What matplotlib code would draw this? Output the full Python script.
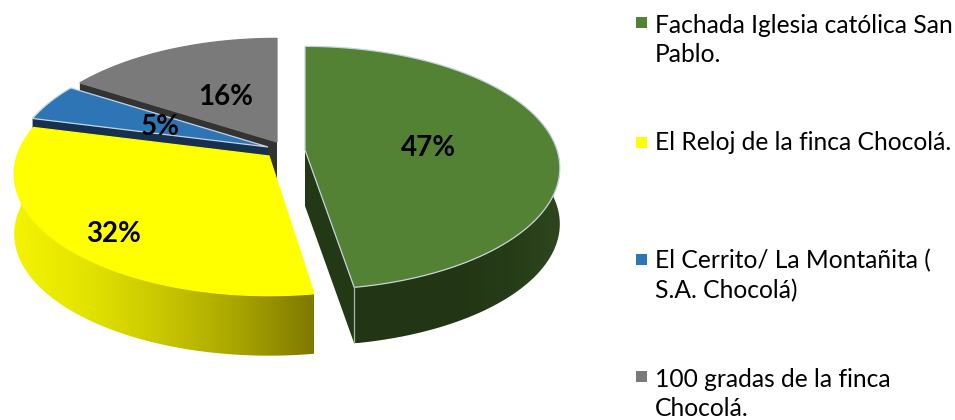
import numpy as np
import matplotlib
matplotlib.use("Agg")
import matplotlib.pyplot as plt
from matplotlib.patches import Polygon, Rectangle
from matplotlib.colors import LinearSegmentedColormap

categories = ["Fachada Iglesia católica San\nPablo.",
              "El Reloj de la finca Chocolá.",
              "El Cerrito/ La Montañita (\nS.A. Chocolá)",
              "100 gradas de la finca\nChocolá."]
values = [47, 32, 5, 16]

top_colors = ["#548235", "#ffff00", "#2e75b6", "#7a7a7a"]
side_colors = ["#233815", "#8f8c00", "#17304f", "#333333"]
apex = [(305, 150), (269, 156), (268, 147), (277, 142)]
start_nudge = [0, 2.0, 0, 0]
end_nudge = [1.2, 0, 0, 0]
depth = [56, 60, 10, 58]
label_pos = [(428, 148), (114, 234), (160, 127), (226, 97)]
legend_y = [22, 142, 259, 376]
legend_text_y = [40, 143, 276, 394]

RX, RY, K = 252.0, 119.0, 0.148

def project(theta_deg, ctr):
    t = np.radians(theta_deg)
    x, y = np.sin(t), -np.cos(t)
    w = 1 - K * y
    return ctr[0] + RX * x / w, ctr[1] + RY * y / w

def arc(a, b, ctr):
    th = np.linspace(a, b, 200)
    return project(th, ctr)

fig = plt.figure(figsize=(9.55, 4.2), dpi=100)
ax = fig.add_axes([0, 0, 1, 1])
ax.set_axis_off()

bounds = np.cumsum([0] + values) * 3.6
spans = [(bounds[i] + start_nudge[i], bounds[i + 1] + end_nudge[i]) for i in range(len(values))]

def gradient_fill(xs, ys, stops, z):
    poly = Polygon(np.c_[xs, ys], closed=True, transform=ax.transData,
                   facecolor="none", edgecolor="none")
    ax.add_patch(poly)
    cmap = LinearSegmentedColormap.from_list("g", stops)
    x0, x1 = min(xs), max(xs)
    y0, y1 = min(ys), max(ys)
    im = ax.imshow(np.linspace(0, 1, 256)[None, :], cmap=cmap, aspect="auto",
                   extent=[x0, x1, y1, y0], zorder=z, interpolation="bilinear")
    im.set_clip_path(poly)

def top_face(i, z):
    a, b = spans[i]
    ax_, ay_ = arc(a, b, apex[i])
    xs = np.r_[apex[i][0], ax_]
    ys = np.r_[apex[i][1], ay_]
    edge = "#c4d4dc" if i in (0, 2) else top_colors[i]
    ax.add_patch(Polygon(np.c_[xs, ys], closed=True, facecolor=top_colors[i],
                         edgecolor=edge, linewidth=0.9, zorder=z))

# gray slice
i = 3
a, b = spans[i]
px, py = project(a, apex[i])
ax.add_patch(Polygon([(px, py), apex[i], (apex[i][0], apex[i][1] + depth[i]),
                      (px, py + 8)], closed=True, facecolor=side_colors[i],
                     edgecolor="none", zorder=2))
top_face(i, 3)

# blue slice
i = 2
a, b = spans[i]
px, py = project(b, apex[i])
px2, py2 = project(a, apex[i])
ax.add_patch(Polygon([(px2, py2), apex[i], (apex[i][0], apex[i][1] + depth[i]),
                      (px2, py2 + depth[i])], closed=True,
                     facecolor=side_colors[i], edgecolor="none", zorder=4))
top_face(i, 5)

# yellow slice
i = 1
a, b = spans[i]
rx_, ry_ = arc(a, 275, apex[i])
xs = np.r_[rx_, rx_[::-1]]
ys = np.r_[ry_, ry_[::-1] + depth[i]]
gradient_fill(xs, ys, ["#f4f400", "#e2e200", "#c8c600", "#a8a400", "#7f7900"], 6)
top_face(i, 7)

# green slice
i = 0
a, b = spans[i]
ex, ey = project(b, apex[i])
ax.add_patch(Polygon([apex[i], (ex, ey), (ex, ey + depth[i]),
                      (apex[i][0], apex[i][1] + depth[i])], closed=True,
                     facecolor=side_colors[i], edgecolor="none", zorder=8))
rx_, ry_ = arc(60, b, apex[i])
xs = np.r_[rx_, rx_[::-1]]
ys = np.r_[ry_, ry_[::-1] + depth[i]]
gradient_fill(xs, ys, ["#223514", "#223514", "#223514", "#263c18", "#2e461e"], 9)
top_face(i, 10)
ax.plot([ex, ex], [ey, ey + depth[i]], color="#a9b8ae", lw=0.9, zorder=11)

for v, (lx, ly) in zip(values, label_pos):
    ax.text(lx, ly, f"{v}%", ha="center", va="center", family="Lato",
            fontweight="bold", fontsize=20, color="black", zorder=12)

for c, my, ty, label in zip(top_colors, legend_y, legend_text_y, categories):
    ax.add_patch(Rectangle((635.5, my - 5.5), 11, 11, facecolor=c,
                           edgecolor="none", zorder=12))
    ax.text(655, ty, label, ha="left", va="center", family="Lato",
            fontsize=17.7, color="black", linespacing=1.35, zorder=12)

ax.set_xlim(0, 955)
ax.set_ylim(420, 0)
fig.savefig("out.png", dpi=100)
